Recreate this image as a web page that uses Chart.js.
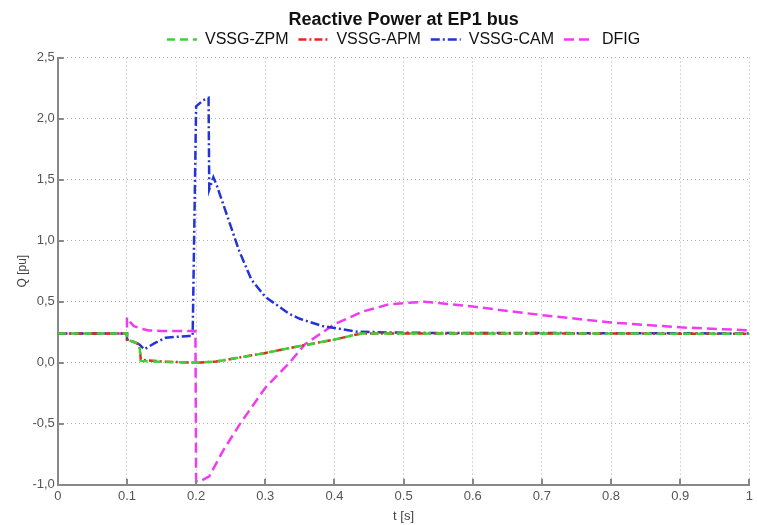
<!DOCTYPE html>
<html lang="en">
<head>
<meta charset="utf-8">
<style>
  html, body { margin: 0; padding: 0; background: #fff; }
  #wrap { width: 757px; height: 525px; }
</style>
</head>
<body>
<div id="wrap"><canvas id="myChart" width="757" height="525"></canvas></div>
<script src="https://cdn.jsdelivr.net/npm/chart.js"></script>
<script>
// values
const tZPM = [0, 0.1, 0.1, 0.11, 0.118, 0.12, 0.13, 0.15, 0.2, 0.229, 0.26, 0.3, 0.35, 0.4, 0.439, 0.45, 1];
const qZPM = [0.24, 0.24, 0.19, 0.17, 0.15, 0.015, 0.012, 0.008, 0.0, 0.01, 0.04, 0.08, 0.137, 0.19, 0.24, 0.24, 0.238];

const tAPM = [0, 0.1, 0.1, 0.11, 0.118, 0.12, 0.13, 0.15, 0.2, 0.229, 0.26, 0.3, 0.35, 0.4, 0.439, 0.45, 1];
const qAPM = [0.24, 0.24, 0.19, 0.17, 0.15, 0.025, 0.02, 0.01, 0.0, 0.01, 0.04, 0.08, 0.137, 0.19, 0.24, 0.24, 0.238];

const tCAM = [0, 0.1, 0.1, 0.11, 0.118, 0.125, 0.14, 0.156, 0.19, 0.195, 0.2, 0.21, 0.218, 0.219, 0.225, 0.23, 0.25, 0.262, 0.28, 0.3, 0.32, 0.335, 0.35, 0.383, 0.432, 0.5, 1];
const qCAM = [0.24, 0.24, 0.19, 0.17, 0.15, 0.11, 0.16, 0.205, 0.22, 0.22, 2.1, 2.15, 2.17, 1.42, 1.52, 1.45, 1.12, 0.92, 0.68, 0.54, 0.46, 0.4, 0.36, 0.3, 0.255, 0.245, 0.24];

const tDFIG = [0, 0.1, 0.1, 0.105, 0.11, 0.12, 0.132, 0.15, 0.199, 0.2, 0.205, 0.219, 0.239, 0.263, 0.3, 0.335, 0.357, 0.4, 0.441, 0.48, 0.53, 0.6, 0.7, 0.8, 0.9, 1];
const qDFIG = [0.24, 0.24, 0.37, 0.33, 0.3, 0.28, 0.265, 0.26, 0.26, -0.97, -0.975, -0.93, -0.72, -0.505, -0.205, 0.0, 0.15, 0.315, 0.42, 0.48, 0.5, 0.46, 0.39, 0.33, 0.29, 0.265];

const seriesNames = ['VSSG-ZPM', 'VSSG-APM', 'VSSG-CAM', 'DFIG'];
const xTicks = [0, 0.1, 0.2, 0.3, 0.4, 0.5, 0.6, 0.7, 0.8, 0.9, 1];
const yTicks = [-1, -0.5, 0, 0.5, 1, 1.5, 2, 2.5];

function pts(t, q) {
  return t.map((x, i) => ({x: x, y: q[i]}));
}

const tickFont = {family: "'Liberation Sans Narrow', 'Liberation Sans', Arial, sans-serif", size: 13};

// short inward tick marks on the left and bottom axes
const innerTicks = {
  id: 'innerTicks',
  afterDatasetsDraw(chart) {
    const ctx = chart.ctx;
    const xs = chart.scales.x, ys = chart.scales.y;
    const a = chart.chartArea;
    ctx.save();
    ctx.strokeStyle = '#888';
    ctx.lineWidth = 2;
    ctx.beginPath();
    xTicks.forEach(v => {
      const px = Math.round(xs.getPixelForValue(v));
      ctx.moveTo(px, a.bottom);
      ctx.lineTo(px, a.bottom - 6);
    });
    yTicks.forEach(v => {
      const py = Math.round(ys.getPixelForValue(v));
      ctx.moveTo(a.left, py);
      ctx.lineTo(a.left + 6, py);
    });
    ctx.stroke();
    ctx.restore();
  }
};

const data = {
  datasets: [
    {label: seriesNames[0], data: pts(tZPM, qZPM), borderColor: '#3ad43a', borderDash: [8, 5]},
    {label: seriesNames[1], data: pts(tAPM, qAPM), borderColor: '#e8261f', borderDash: [8, 3, 2, 3]},
    {label: seriesNames[2], data: pts(tCAM, qCAM), borderColor: '#2233d8', borderDash: [9, 3, 2, 3]},
    {label: seriesNames[3], data: pts(tDFIG, qDFIG), borderColor: '#f03cf0', borderDash: [10, 5]}
  ]
};
data.datasets.forEach(d => {
  d.borderWidth = 2.5;
  d.pointRadius = 0;
  d.tension = 0;
  d.fill = false;
  d.backgroundColor = d.borderColor;
});

const config = {
  type: 'line',
  data: data,
  options: {
    responsive: false,
    animation: false,
    layout: {padding: {left: 15, right: 7, top: 0, bottom: 1}},
    plugins: {
      title: {
        display: true,
        text: 'Reactive Power at EP1 bus',
        fullSize: false,
        color: '#111',
        font: {family: 'Arial, Liberation Sans, sans-serif', size: 18, weight: 'bold'},
        padding: {top: 9, bottom: 0}
      },
      legend: {
        display: true,
        fullSize: false,
        labels: {
          usePointStyle: true,
          pointStyle: 'line',
          pointStyleWidth: 30,
          boxHeight: 10,
          color: '#111',
          padding: 1,
          font: {family: 'Arial, Liberation Sans, sans-serif', size: 16},
          generateLabels: chart => {
            const items = Chart.defaults.plugins.legend.labels.generateLabels(chart);
            items.forEach((it, i) => {
              const ds = chart.data.datasets[it.datasetIndex];
              it.lineDash = ds.borderDash;
              it.lineWidth = 2.5;
              it.strokeStyle = ds.borderColor;
              if (i < items.length - 1) it.text = it.text + '  ';
            });
            return items;
          }
        }
      },
      tooltip: {enabled: false}
    },
    scales: {
      x: {
        type: 'linear',
        min: 0, max: 1,
        afterBuildTicks: s => { s.ticks = xTicks.map(v => ({value: v})); },
        ticks: {
          color: '#555',
          font: tickFont,
          padding: 4,
          maxRotation: 0,
          callback: v => (v === 0 || v === 1) ? String(v) : v.toFixed(1)
        },
        grid: {color: '#b0b0b0', lineWidth: 1, drawTicks: false},
        border: {display: true, color: '#888', width: 2, dash: [1, 3]},
        title: {display: true, text: 't [s]', color: '#444', font: tickFont, padding: {top: 0, bottom: 0}}
      },
      y: {
        type: 'linear',
        min: -1, max: 2.5,
        afterBuildTicks: s => { s.ticks = yTicks.map(v => ({value: v})); },
        ticks: {
          color: '#555',
          font: {family: tickFont.family, size: 13, lineHeight: 0.9},
          padding: 3,
          callback: v => v.toFixed(1).replace('.', ',')
        },
        grid: {color: '#b0b0b0', lineWidth: 1, drawTicks: false},
        border: {display: true, color: '#888', width: 2, dash: [1, 3]},
        title: {display: true, text: 'Q [pu]', color: '#444', font: {family: tickFont.family, size: 12}, padding: {top: 0, bottom: 0}}
      }
    }
  },
  plugins: [innerTicks]
};

const myChart = new Chart(document.getElementById('myChart'), config);
</script>
</body>
</html>
